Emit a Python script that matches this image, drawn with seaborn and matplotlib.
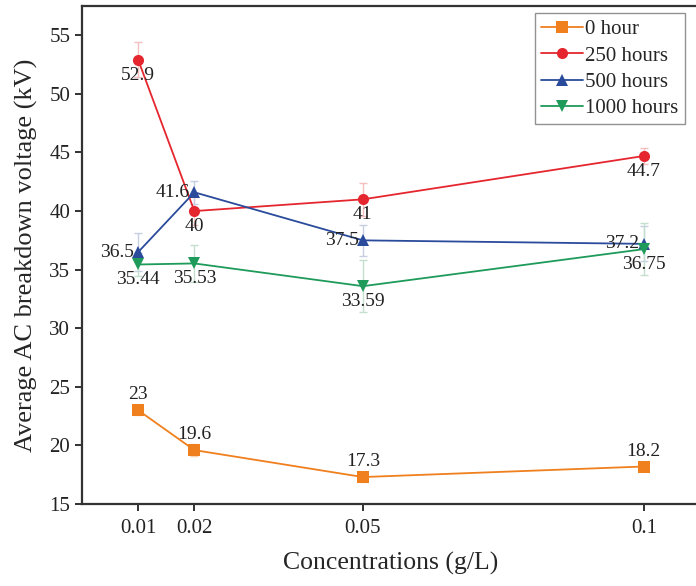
import pandas as pd
import matplotlib
matplotlib.use("Agg")
import matplotlib.pyplot as plt
import seaborn as sns

conc = [0.01, 0.02, 0.05, 0.1]
series = ['0 hour', '250 hours', '500 hours', '1000 hours']
v0 = [23, 19.6, 17.3, 18.2]
v250 = [52.9, 40, 41, 44.7]
v500 = [36.5, 41.6, 37.5, 37.2]
v1000 = [35.44, 35.53, 33.59, 36.75]
e0 = [0.4, 0.5, 0.4, 0.4]
e250 = [1.5, 1.2, 1.4, 0.7]
e500 = [1.6, 1.0, 1.3, 1.5]
e1000 = [1.0, 1.6, 2.2, 2.2]
lab0 = ['23', '19.6', '17.3', '18.2']
lab250 = ['52.9', '40', '41', '44.7']
lab500 = ['36.5', '41.6', '37.5', '37.2']
lab1000 = ['35.44', '35.53', '33.59', '36.75']

values = [v0, v250, v500, v1000]
errors = [e0, e250, e500, e1000]
labels = [lab0, lab250, lab500, lab1000]
colors = ['#F07F1E', '#E5262E', '#2A4B9B', '#1E9A5A']
ecolors = ['#F9D3B2', '#F4BFC1', '#C6CEE4', '#C3E0CF']
markers = ['s', 'o', '^', 'v']
# label offsets (points) and alignment per series
offsets = [(0, 5, 'center', 'bottom'), (0, -5, 'center', 'top'),
           (-3, 0, 'right', 'center'), (0, -5, 'center', 'top')]

rows = []
for name, vals in zip(series, values):
    for c, v in zip(conc, vals):
        rows.append({'conc': c, 'volt': v, 'series': name})
df = pd.DataFrame(rows)

sns.set_style('ticks')
plt.rcParams['font.family'] = ['Liberation Serif', 'DejaVu Serif']

fig = plt.figure(figsize=(6.96, 5.86), dpi=100)
ax = fig.add_axes([82 / 696, 82 / 586, 618 / 696, 498 / 586])

for vals, errs, ec in zip(values, errors, ecolors):
    ax.errorbar(conc, vals, yerr=errs, fmt='none', ecolor=ec, elinewidth=1,
                capsize=3, capthick=1, zorder=1)

sns.lineplot(data=df, x='conc', y='volt', hue='series', style='series',
             hue_order=series, style_order=series,
             palette=dict(zip(series, colors)), markers=dict(zip(series, markers)),
             dashes=False, markersize=8, markeredgewidth=0, linewidth=1.3,
             ax=ax, zorder=3)

for vals, labs, (dx, dy, ha, va) in zip(values, labels, offsets):
    for c, v, t in zip(conc, vals, labs):
        ax.annotate(t, (c, v), xytext=(dx, dy), textcoords='offset points',
                    ha=ha, va=va, fontsize=14, color='#222222', zorder=4)

ax.set_xlim(0, 0.11)
ax.set_ylim(15, 57.5)
ax.set_xticks(conc)
ax.set_xticklabels(['0.01', '0.02', '0.05', '0.1'])
ax.set_yticks(range(15, 56, 5))
ax.tick_params(axis='both', labelsize=15, direction='out', length=5, width=1.3,
               colors='#222222')
ax.tick_params(axis='x', pad=6)
ax.set_xlabel('Concentrations (g/L)', fontsize=18.5, labelpad=10)
ax.set_ylabel('Average AC breakdown voltage (kV)', fontsize=19, labelpad=8)
for s in ax.spines.values():
    s.set_linewidth(1.6)
    s.set_color('#333333')

leg = ax.legend(loc='upper left', bbox_to_anchor=(453 / 618, 0.985), fontsize=15,
                frameon=True, fancybox=False, edgecolor='#777777',
                handlelength=2.0, borderpad=0.3, labelspacing=0.32,
                handletextpad=0.1, borderaxespad=0.0)
leg.get_frame().set_linewidth(1)
leg.set_title(None)

fig.savefig('out.png', dpi=100)
